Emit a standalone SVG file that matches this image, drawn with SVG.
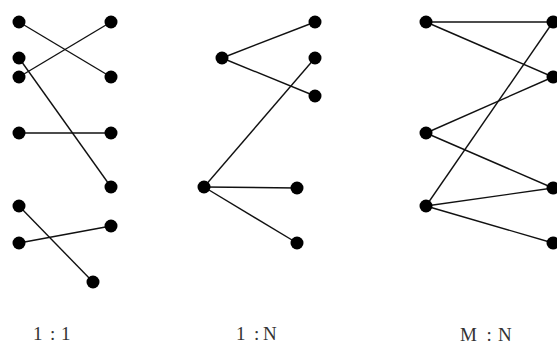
<svg xmlns="http://www.w3.org/2000/svg" width="557" height="349" viewBox="0 0 557 349">
<style>
.n{fill:#000}
.e line{stroke:#111;stroke-width:1.4}
.l{font-family:"Liberation Serif",serif;font-size:19px;fill:#333}
</style>
<rect width="557" height="349" fill="#fff"/>
<g class="e" id="connectors">
<line x1="19" y1="22" x2="111" y2="77"/>
<line x1="19" y1="77" x2="111" y2="22"/>
<line x1="19" y1="58" x2="111" y2="187"/>
<line x1="19" y1="133" x2="111" y2="133"/>
<line x1="19" y1="206" x2="93" y2="282"/>
<line x1="19" y1="243" x2="111" y2="226"/>
<line x1="222" y1="58" x2="315" y2="22"/>
<line x1="222" y1="58" x2="315" y2="96"/>
<line x1="204" y1="187" x2="315" y2="58"/>
<line x1="204" y1="187" x2="297" y2="188"/>
<line x1="204" y1="187" x2="297" y2="243"/>
<line x1="426" y1="22" x2="553" y2="22"/>
<line x1="426" y1="22" x2="553" y2="77"/>
<line x1="426" y1="133" x2="553" y2="77"/>
<line x1="426" y1="133" x2="553" y2="188"/>
<line x1="426" y1="206" x2="553" y2="22"/>
<line x1="426" y1="206" x2="553" y2="188"/>
<line x1="426" y1="206" x2="553" y2="243"/>
</g>
<g id="a1"><circle class="n" cx="19" cy="22" r="6.5"/></g>
<g id="a2"><circle class="n" cx="19" cy="58" r="6.5"/></g>
<g id="a3"><circle class="n" cx="19" cy="77" r="6.5"/></g>
<g id="a4"><circle class="n" cx="19" cy="133" r="6.5"/></g>
<g id="a5"><circle class="n" cx="19" cy="206" r="6.5"/></g>
<g id="a6"><circle class="n" cx="19" cy="243" r="6.5"/></g>
<g id="b1"><circle class="n" cx="111" cy="22" r="6.5"/></g>
<g id="b2"><circle class="n" cx="111" cy="77" r="6.5"/></g>
<g id="b3"><circle class="n" cx="111" cy="133" r="6.5"/></g>
<g id="b4"><circle class="n" cx="111" cy="187" r="6.5"/></g>
<g id="b5"><circle class="n" cx="111" cy="226" r="6.5"/></g>
<g id="b6"><circle class="n" cx="93" cy="282" r="6.5"/></g>
<g id="c1"><circle class="n" cx="222" cy="58" r="6.5"/></g>
<g id="c2"><circle class="n" cx="204" cy="187" r="6.5"/></g>
<g id="d1"><circle class="n" cx="315" cy="22" r="6.5"/></g>
<g id="d2"><circle class="n" cx="315" cy="58" r="6.5"/></g>
<g id="d3"><circle class="n" cx="315" cy="96" r="6.5"/></g>
<g id="d4"><circle class="n" cx="297" cy="188" r="6.5"/></g>
<g id="d5"><circle class="n" cx="297" cy="243" r="6.5"/></g>
<g id="e1"><circle class="n" cx="426" cy="22" r="6.5"/></g>
<g id="e2"><circle class="n" cx="426" cy="133" r="6.5"/></g>
<g id="e3"><circle class="n" cx="426" cy="206" r="6.5"/></g>
<g id="f1"><circle class="n" cx="553" cy="22" r="6.5"/></g>
<g id="f2"><circle class="n" cx="553" cy="77" r="6.5"/></g>
<g id="f3"><circle class="n" cx="553" cy="188" r="6.5"/></g>
<g id="f4"><circle class="n" cx="553" cy="243" r="6.5"/></g>
<g id="labels">
<text class="l" x="33 42 50 56 61" y="340">1 : 1</text>
<text class="l" x="236 245 254 260 263" y="340">1 : N</text>
<text class="l" x="460 477 486.5 492 498" y="341">M : N</text>
</g>
</svg>
